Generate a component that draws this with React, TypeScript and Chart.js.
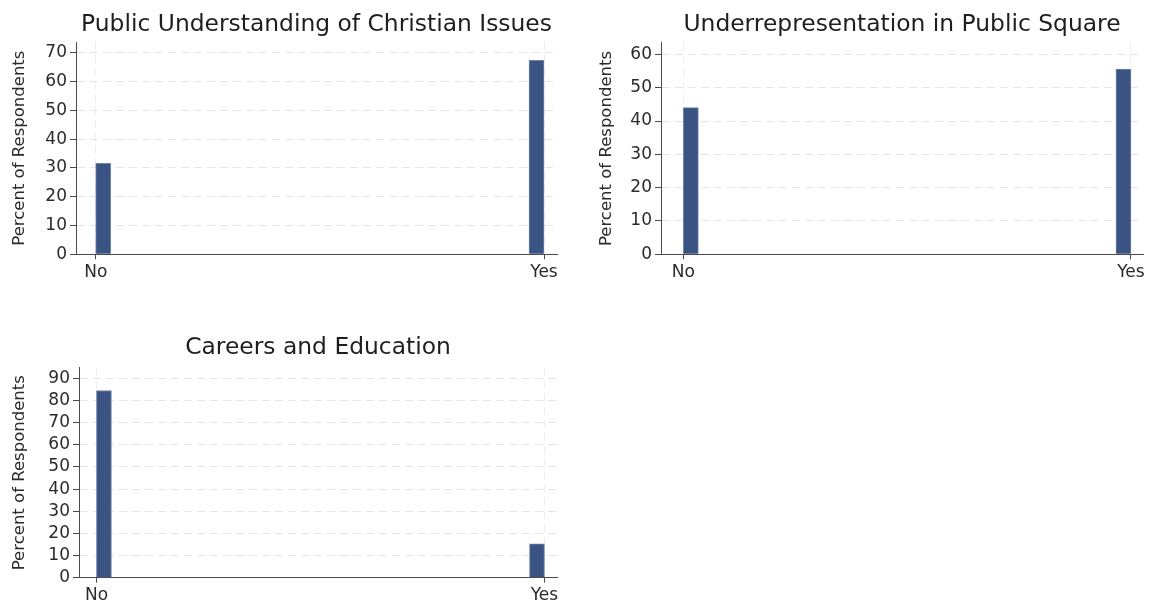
import React, { useEffect, useRef } from "react";
import { Chart, registerables } from "chart.js";

Chart.register(...registerables);

// ---- data ----
const categories = ["No", "Yes"];
const categoryValues = [0, 1];
const binWidth = 1 / 30;
const binStarts = [0, 1 - binWidth];

const titles = [
  "Public Understanding of Christian Issues",
  "Underrepresentation in Public Square",
  "Careers and Education",
];
const publicUnderstanding = [31.6, 67.4];
const underrepresentation = [44.0, 55.6];
const careersEducation = [84.5, 15.3];

const yTickTops = [70, 60, 90];
const yStep = 10;
const yAxisLabel = "Percent of Respondents";

// ---- styling / layout ----
const FONT = "'DejaVu Sans', 'Liberation Sans', Arial, sans-serif";
const BAR = "#3b5383";
const BAR_EDGE = "#6e84ad";
const AXIS = "#4a4a4a";
const GRID = "#e4e4e4";
const TEXT = "#2b2b2b";

type PanelCfg = {
  title: string;
  values: number[];
  yTop: number;
  yMax: number;
  xMin: number;
  xMax: number;
  left: number;
  top: number;
  width: number;
  height: number;
  yAxisWidth: number;
  plotTop: number;
  plotBottom: number;
  padRight: number;
  titleTop: number;
};

const panels: PanelCfg[] = [
  {
    title: titles[0], values: publicUnderstanding, yTop: yTickTops[0], yMax: 73.8,
    xMin: -0.044, xMax: 1.029,
    left: 0, top: 0, width: 576, height: 290,
    yAxisWidth: 76, plotTop: 42, plotBottom: 254.3, padRight: 19, titleTop: 10.5,
  },
  {
    title: titles[1], values: underrepresentation, yTop: yTickTops[1], yMax: 63.5,
    xMin: -0.05, xMax: 1.027,
    left: 587, top: 0, width: 566, height: 290,
    yAxisWidth: 74, plotTop: 42.7, plotBottom: 254.3, padRight: 10, titleTop: 10.5,
  },
  {
    title: titles[2], values: careersEducation, yTop: yTickTops[2], yMax: 94.8,
    xMin: -0.039, xMax: 1.028,
    left: 0, top: 325, width: 576, height: 281,
    yAxisWidth: 79, plotTop: 42.7, plotBottom: 252.7, padRight: 19, titleTop: 9,
  },
];

const TITLE_SIZE = 23.4;
const TICK_SIZE = 17;
const YTITLE_SIZE = 16.5;

function Panel({ cfg }: { cfg: PanelCfg }) {
  const ref = useRef<HTMLCanvasElement | null>(null);

  useEffect(() => {
    if (!ref.current) return;
    const yTicks: number[] = [];
    for (let v = 0; v <= cfg.yTop; v += yStep) yTicks.push(v);

    const chart = new Chart(ref.current, {
      type: "bar",
      data: {
        datasets: [
          {
            data: cfg.values.map((v, i) => ({ x: binStarts[i] + binWidth / 2, y: v })),
            backgroundColor: BAR,
            borderColor: BAR_EDGE,
            borderWidth: 1,
            barThickness: 15,
          } as any,
        ],
      },
      options: {
        responsive: false,
        animation: false,
        events: [],
        layout: { padding: { left: 0, right: cfg.padRight, top: 0, bottom: 0 } },
        plugins: {
          legend: { display: false },
          tooltip: { enabled: false },
          title: {
            display: true,
            text: cfg.title,
            fullSize: false,
            color: "#1e1e1e",
            font: { family: FONT, size: TITLE_SIZE, weight: "normal" },
            padding: {
              top: cfg.titleTop,
              bottom: cfg.plotTop - cfg.titleTop - TITLE_SIZE * 1.2,
            },
          },
        },
        scales: {
          x: {
            type: "linear",
            offset: false,
            min: cfg.xMin,
            max: cfg.xMax,
            afterBuildTicks: (s: any) => {
              s.ticks = categoryValues.map((v) => ({ value: v }));
            },
            afterFit: (s: any) => {
              s.height = cfg.height - cfg.plotBottom;
            },
            ticks: {
              autoSkip: false,
              maxRotation: 0,
              padding: 3,
              color: TEXT,
              font: { family: FONT, size: TICK_SIZE },
              callback: (_v: any, i: number) => categories[i],
            },
            grid: {
              offset: false,
              color: "#eeeeee",
              lineWidth: 1,
              tickColor: AXIS,
              tickLength: 5,
            },
            border: { color: AXIS, width: 1, dash: [8, 5] },
          },
          y: {
            type: "linear",
            min: 0,
            max: cfg.yMax,
            afterBuildTicks: (s: any) => {
              s.ticks = yTicks.map((v) => ({ value: v }));
            },
            afterFit: (s: any) => {
              s.width = cfg.yAxisWidth;
            },
            ticks: {
              autoSkip: false,
              padding: 3,
              color: TEXT,
              font: { family: FONT, size: TICK_SIZE },
            },
            grid: {
              color: (c: any) => (c.tick && c.tick.value === 0 ? "rgba(0,0,0,0)" : GRID),
              lineWidth: 1,
              tickColor: AXIS,
              tickLength: 6,
            },
            border: { color: AXIS, width: 1, dash: [8, 5] },
            title: {
              display: true,
              text: yAxisLabel,
              color: TEXT,
              font: { family: FONT, size: YTITLE_SIZE },
              padding: { top: 10, bottom: 0 },
            },
          },
        },
      } as any,
    });
    return () => chart.destroy();
  }, [cfg]);

  return (
    <canvas
      ref={ref}
      width={cfg.width}
      height={cfg.height}
      style={{
        position: "absolute",
        left: cfg.left,
        top: cfg.top,
        width: cfg.width,
        height: cfg.height,
      }}
    />
  );
}

export default function App() {
  return (
    <div
      style={{
        position: "fixed",
        left: 0,
        top: 0,
        width: 1153,
        height: 606,
        background: "#ffffff",
        overflow: "hidden",
      }}
    >
      {panels.map((p, i) => (
        <Panel key={i} cfg={p} />
      ))}
    </div>
  );
}
